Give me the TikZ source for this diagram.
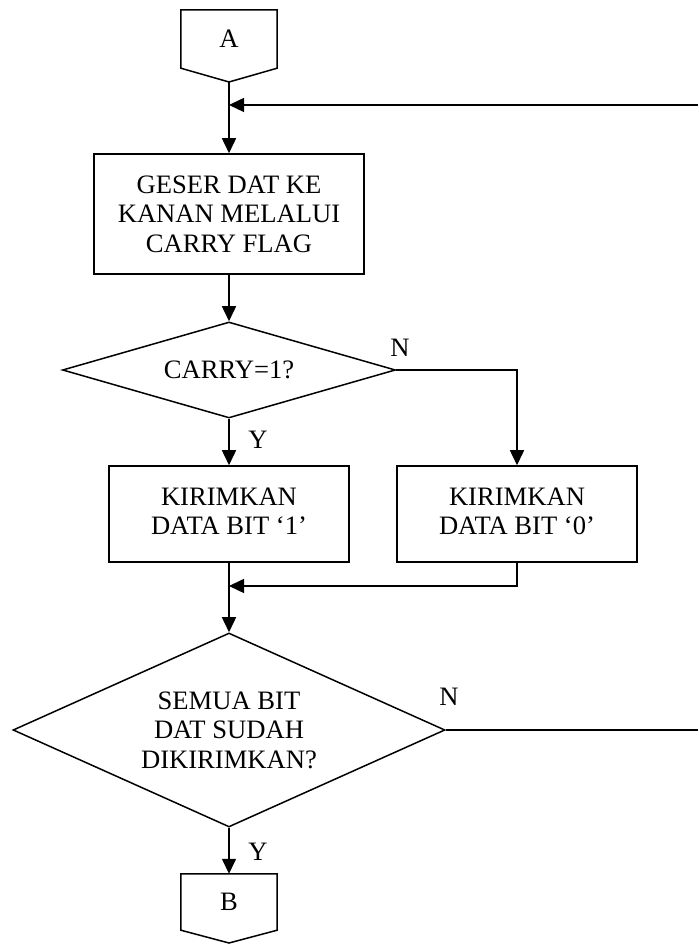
\documentclass[tikz,border=0pt]{standalone}
\usepackage{fontspec}
\setmainfont{Liberation Serif}
\usetikzlibrary{shapes.geometric,arrows.meta,calc}
\newcommand{\uptext}[1]{\raisebox{5pt}{\begin{tabular}{@{}c@{}}#1\end{tabular}}}
\begin{document}
\begin{tikzpicture}[x=1pt,y=1pt,
  every node/.style={font=\fontsize{26.6}{29.5}\selectfont, align=center, inner sep=0pt},
  line/.style={line width=1.5pt},
  arr/.style={line width=1.5pt,-{Triangle[length=15pt,width=14pt]}},
  proc/.style={draw, line width=1.5pt, minimum width=240pt, minimum height=96pt},
  dec/.style={draw, diamond, line width=1.5pt, aspect=3},
  conn/.style={minimum width=96pt}
]
\useasboundingbox (0,0) rectangle (698,944);
% connector A
\node[conn, minimum height=58pt] (A) at (229,905) {A};
\coordinate (Atip) at (229,862);
\draw[line] (A.north west) -- (A.north east) -- (A.south east) -- (Atip) -- (A.south west) -- cycle;
% process 1
\node[proc, minimum width=270pt, minimum height=120pt] (b1) at (229,730) {GESER DAT KE\\KANAN MELALUI\\CARRY FLAG};
% decision 1
\node[dec, minimum width=333pt, minimum height=96pt] (d1) at (229,574) {CARRY=1?};
% process 2 and 3
\node[proc] (b2) at (229,430) {\uptext{KIRIMKAN\\DATA BIT `1'}};
\node[proc] (b3) at (517,430) {\uptext{KIRIMKAN\\DATA BIT `0'}};
% decision 2
\node[dec, minimum width=432pt, minimum height=194pt] (d2) at (229,214) {SEMUA BIT\\DAT SUDAH\\DIKIRIMKAN?};
% connector B
\node[conn, minimum height=56pt] (B) at (229,42) {B};
\coordinate (Btip) at (229,1);
\draw[line] (B.north west) -- (B.north east) -- (B.south east) -- (Btip) -- (B.south west) -- cycle;
% labels
\node (n1) at (400,596) {N};
\node (y1) at (258,504) {Y};
\node (n2) at (449,247) {N};
\node (y2) at (258,92) {Y};
% coordinates
\coordinate (J) at (229,839);
\coordinate (R1) at (698,839);
\coordinate (M) at (229,358);
\coordinate (R2) at (698,214);
% connectors
\draw[line] (Atip) -- (J);
\draw[arr] (R1) -- (J);
\draw[arr] (J) -- (b1.north);
\draw[arr] (b1.south) -- (d1.north);
\draw[arr] (d1.south) -- (b2.north);
\draw[arr] (d1.east) -| (b3.north);
\draw[line] (b2.south) -- (M);
\draw[arr] (b3.south) |- (M);
\draw[arr] (M) -- (d2.north);
\draw[line] (d2.east) -- (R2);
\draw[arr] (d2.south) -- (B.north);
\end{tikzpicture}
\end{document}
